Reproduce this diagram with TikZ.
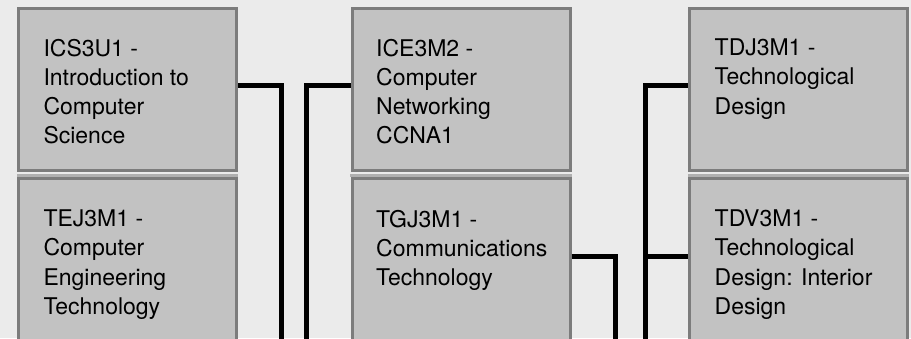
\documentclass[tikz,border=0pt]{standalone}
\usepackage{fontspec}
\setmainfont{TeX Gyre Heros}
\definecolor{bg}{HTML}{EBEBEB}
\definecolor{boxfill}{HTML}{C2C2C2}
\definecolor{boxline}{HTML}{7C7C7C}
\definecolor{stripc}{HTML}{B0B0B0}
\begin{document}
\begin{tikzpicture}[x=1pt,y=-1pt,
  box/.style={draw=boxline, fill=boxfill, line width=3pt, rectangle, inner sep=0pt, minimum width=218pt},
  toprow/.style={minimum height=161.5pt},
  botrow/.style={minimum height=241.5pt},
  lbl/.style={anchor=north west, inner sep=0pt, align=left, font=\fontsize{23}{29.3}\selectfont},
  conn/.style={line width=5pt, line join=miter, draw=black},
  stripbar/.style={fill=stripc}]
\fill[bg] (0,0) rectangle (911,338);
\useasboundingbox (0,0) rectangle (911,338);
\clip (0,0) rectangle (911,338);

% boxes
\node[box, toprow] (b11) at (127.5,89.25) {};
\node[box, botrow] (b12) at (127.5,299.25) {};
\node[box, toprow] (b21) at (461,89.25) {};
\node[box, botrow] (b22) at (461,299.25) {};
\node[box, toprow] (b31) at (798.5,89.25) {};
\node[box, botrow] (b32) at (798.5,299.25) {};

% thin strips between rows
\fill[stripbar] (17,174) rectangle (238,176.8);
\fill[stripbar] (350,174) rectangle (572,176.8);
\fill[stripbar] (688,174) rectangle (909,176.8);

% labels
\node[lbl] (t11) at (43.3,38.7) {ICS3U1 -\\Introduction to\\Computer\\Science};
\node[lbl] (t12) at (43.3,209.7) {TEJ3M1 -\\Computer\\Engineering\\Technology};
\node[lbl] (t21) at (376,38.7) {ICE3M2 -\\Computer\\Networking\\CCNA1};
\node[lbl] (t22) at (376,209.7) {TGJ3M1 -\\Communications\\Technology};
\node[lbl] (t31) at (714.5,38.7) {TDJ3M1 -\\Technological\\Design};
\node[lbl] (t32) at (714.5,209.7) {TDV3M1 -\\Technological\\Design: Interior\\Design};

% connector helpers
\coordinate (ya) at (0,85.5);
\coordinate (yb) at (0,256);
\coordinate (d1) at (281,350);
\coordinate (d2) at (306,350);
\coordinate (d3) at (615.5,350);
\coordinate (d4) at (645,350);
\coordinate (j) at (d4 |- yb);

% connectors
\draw[conn] (b11.east |- ya) -| (d1);
\draw[conn] (d2) |- (b21.west |- ya);
\draw[conn] (b22.east |- yb) -| (d3);
\draw[conn] (d4) |- (b31.west |- ya);
\draw[conn] (j) -- (b32.west |- yb);
\end{tikzpicture}
\end{document}
